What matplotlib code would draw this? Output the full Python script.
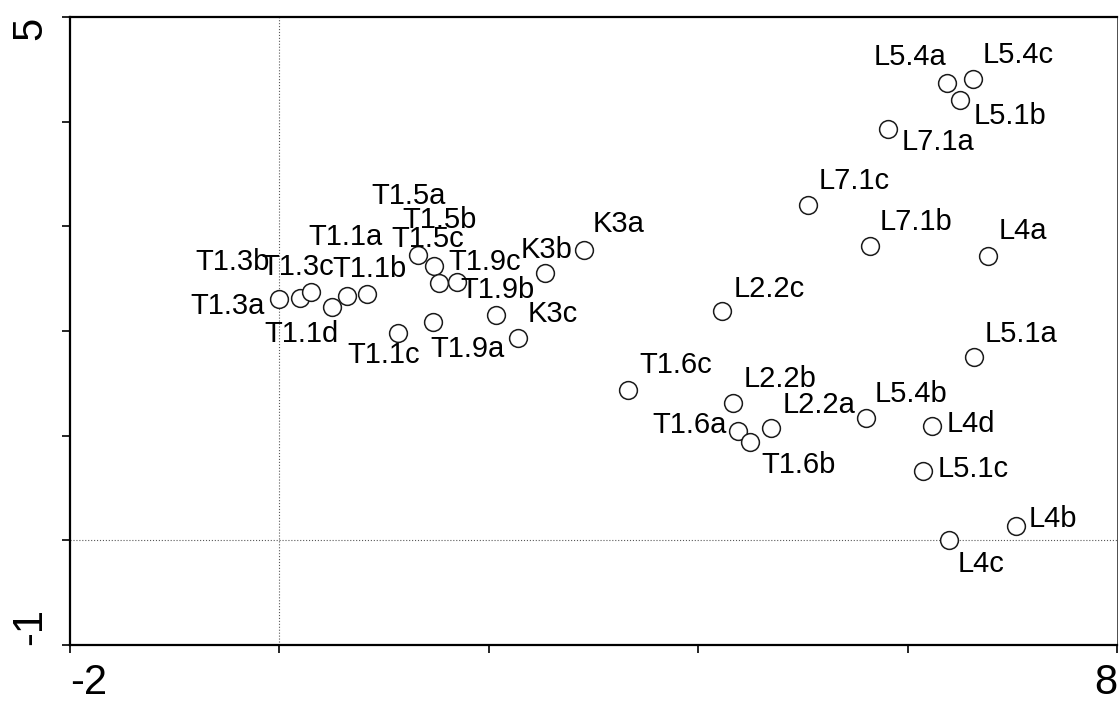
import matplotlib
matplotlib.use("Agg")
import matplotlib.pyplot as plt

plt.rcParams['font.family'] = ['Liberation Sans', 'DejaVu Sans']

# sample names and ordination scores
names = ['T1.3a', 'T1.3b', 'T1.3c', 'T1.1d', 'T1.1a', 'T1.1b',
         'T1.5a', 'T1.5b', 'T1.5c', 'T1.9c', 'T1.9b', 'T1.9a', 'T1.1c',
         'K3c', 'K3b', 'K3a', 'T1.6c', 'L2.2b', 'T1.6a', 'T1.6b', 'L2.2a',
         'L5.4b', 'L4d', 'L5.1c', 'L5.1a', 'L4b', 'L4c', 'L2.2c', 'L4a',
         'L7.1b', 'L7.1c', 'L7.1a', 'L5.4a', 'L5.4c', 'L5.1b']
xs = [0.00, 0.20, 0.30, 0.50, 0.65, 0.84,
      1.32, 1.48, 1.52, 1.70, 2.07, 1.47, 1.13,
      2.28, 2.54, 2.91, 3.33, 4.33, 4.38, 4.49, 4.70,
      5.60, 6.23, 6.15, 6.63, 7.04, 6.40, 4.23, 6.77,
      5.64, 5.05, 5.81, 6.38, 6.62, 6.50]
ys = [2.31, 2.32, 2.37, 2.23, 2.33, 2.35,
      2.73, 2.62, 2.46, 2.47, 2.15, 2.09, 1.98,
      1.93, 2.55, 2.77, 1.44, 1.31, 1.04, 0.94, 1.07,
      1.17, 1.09, 0.66, 1.75, 0.14, 0.00, 2.19, 2.72,
      2.81, 3.20, 3.93, 4.37, 4.41, 4.21]

# label offsets in pixels (left edge, baseline) from each point
offsets = {
    'T1.3a': (-89, -15), 'T1.3b': (-105, 28), 'T1.3c': (-49, 17),
    'T1.1d': (-67, -35), 'T1.1a': (-39, 51), 'T1.1b': (-35, 17),
    'T1.5a': (-46, 51), 'T1.5b': (-32, 38), 'T1.5c': (-47, 36),
    'T1.9c': (-9, 12), 'T1.9b': (-36, 17), 'T1.9a': (-3, -35),
    'T1.1c': (-50, -30), 'K3c': (10, 16), 'K3b': (-25, 15),
    'K3a': (9, 18), 'T1.6c': (11, 17), 'L2.2b': (11, 16),
    'T1.6a': (-86, -2), 'T1.6b': (12, -31), 'L2.2a': (11, 15),
    'L5.4b': (9, 16), 'L4d': (15, -6), 'L5.1c': (14, -6),
    'L5.1a': (11, 15), 'L4b': (12, -1), 'L4c': (8, -32),
    'L2.2c': (11, 14), 'L4a': (10, 17), 'L7.1b': (10, 16),
    'L7.1c': (10, 16), 'L7.1a': (14, -21), 'L5.4a': (-74, 18),
    'L5.4c': (10, 16), 'L5.1b': (14, -24),
}

fig = plt.figure(figsize=(11.19, 7.02), dpi=100)
ax = fig.add_axes([70/1119, 57/702, 1047/1119, 628/702])

ax.axvline(0, color='0.35', lw=0.8, ls=':', zorder=1)
ax.axhline(0, color='0.35', lw=0.8, ls=':', zorder=1)

ax.plot(xs, ys, ls='none', marker='o', ms=12.8, mfc='white',
        mec='#1a1a1a', mew=1.1, zorder=2)

for n, x, y in zip(names, xs, ys):
    dx, dy = offsets[n]
    ax.annotate(n, (x, y), xytext=(dx, dy), textcoords='offset pixels',
                ha='left', va='baseline', fontsize=21, color='black', zorder=3)

ax.set_xlim(-2, 8)
ax.set_ylim(-1, 5)
ax.set_xticks([-2, 0, 2, 4, 6, 8])
ax.set_xticklabels(['-2', '', '', '', '', '8'])
ax.set_yticks([-1, 0, 1, 2, 3, 4, 5])
ax.set_yticklabels(['-1', '', '', '', '', '', '5'], rotation=90)

ax.tick_params(axis='both', direction='out', length=6, width=1.2,
               labelsize=30, colors='black')
ax.tick_params(axis='x', pad=7)
ax.tick_params(axis='y', pad=8)

xl = ax.get_xticklabels()
xl[0].set_ha('left')
xl[-1].set_ha('right')
yl = ax.get_yticklabels()
yl[0].set_va('bottom')
yl[-1].set_va('top')

for s in ['left', 'bottom', 'top']:
    ax.spines[s].set_linewidth(1.6)
    ax.spines[s].set_color('black')
ax.spines['right'].set_linewidth(0.7)
ax.spines['right'].set_color('0.3')

fig.savefig('out.png', dpi=100)
